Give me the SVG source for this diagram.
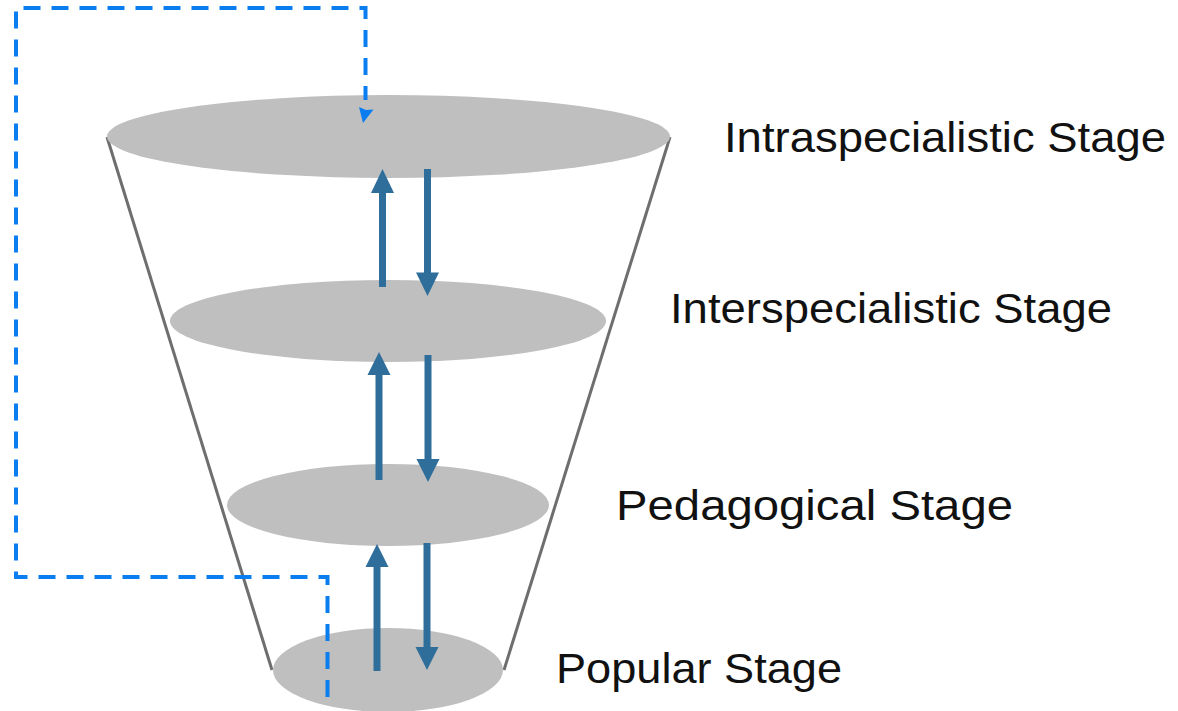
<svg xmlns="http://www.w3.org/2000/svg" width="1178" height="711" viewBox="0 0 1178 711">
  <style>
    .disc { fill: #bfbfbf; }
    .wall { stroke: #6e6e6e; stroke-width: 3; fill: none; }
    .flow { stroke: #2f6e9b; stroke-width: 7; fill: none; }
    .head { fill: #2f6e9b; }
    .loop { stroke: #0a7ef0; stroke-width: 4; fill: none; stroke-dasharray: 17 11; }
    .label { font-family: "Liberation Sans", Arial, sans-serif; font-size: 43px; fill: #111; }
  </style>
  <rect width="1178" height="711" fill="#ffffff"/>

  <!-- funnel walls -->
  <g id="funnel">
    <line class="wall" x1="107" y1="137" x2="272" y2="670"/>
    <line class="wall" x1="670" y1="137" x2="504" y2="670"/>
  </g>

  <!-- stage discs -->
  <g id="intraspecialistic">
    <ellipse class="disc" cx="388.5" cy="136.5" rx="281.5" ry="41.5"/>
    <text class="label" x="724" y="152" textLength="442" lengthAdjust="spacingAndGlyphs">Intraspecialistic Stage</text>
  </g>
  <g id="interspecialistic">
    <ellipse class="disc" cx="388" cy="321" rx="218" ry="41"/>
    <text class="label" x="670" y="323" textLength="442" lengthAdjust="spacingAndGlyphs">Interspecialistic Stage</text>
  </g>
  <g id="pedagogical">
    <ellipse class="disc" cx="388" cy="505" rx="161" ry="41"/>
    <text class="label" x="616" y="520" textLength="397" lengthAdjust="spacingAndGlyphs">Pedagogical Stage</text>
  </g>
  <g id="popular">
    <ellipse class="disc" cx="388" cy="670" rx="115" ry="42"/>
    <text class="label" x="556" y="683" textLength="286" lengthAdjust="spacingAndGlyphs">Popular Stage</text>
  </g>

  <!-- connectors between stages -->
  <g id="connectors">
    <!-- popular <-> pedagogical -->
    <line class="flow" x1="377" y1="671" x2="377" y2="565"/>
    <polygon class="head" points="377,544 365.5,567 388.5,567"/>
    <line class="flow" x1="427" y1="543" x2="427" y2="649"/>
    <polygon class="head" points="427,670 415.5,647 438.5,647"/>

    <!-- pedagogical <-> interspecialistic -->
    <line class="flow" x1="379" y1="480" x2="379" y2="374"/>
    <polygon class="head" points="379,352 367.5,375 390.5,375"/>
    <line class="flow" x1="428" y1="355" x2="428" y2="461"/>
    <polygon class="head" points="428,482 416.5,459 439.5,459"/>

    <!-- interspecialistic <-> intraspecialistic -->
    <line class="flow" x1="382.5" y1="287" x2="382.5" y2="191"/>
    <polygon class="head" points="382.5,169 371,193 394,193"/>
    <line class="flow" x1="427.5" y1="169" x2="427.5" y2="274"/>
    <polygon class="head" points="427.5,296 416,272.5 439,272.5"/>

    <!-- feedback loop from popular back to intraspecialistic -->
    <path class="loop" d="M327.5,697 V577 H16 V8 H365.5 V100"/>
    <polygon fill="#0a7ef0" points="363,123 359,107 366,110 373.5,109.5"/>
  </g>
</svg>
